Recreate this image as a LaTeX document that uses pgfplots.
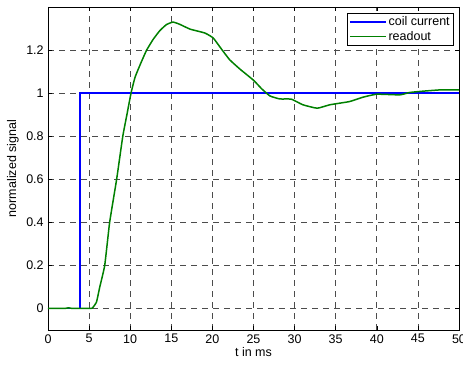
\documentclass[border=0pt]{standalone}
\usepackage{pgfplots}
\pgfplotsset{compat=1.18}
\usepackage{fontspec}
\setmainfont{Liberation Sans}
\definecolor{mgreen}{RGB}{0,128,0}
\begin{document}
\fontsize{12.5bp}{15bp}\selectfont
\begin{tikzpicture}
\path[use as bounding box] (-48bp,-35bp) rectangle (415bp,330bp);
\begin{axis}[
  at={(0,0)}, anchor=south west,
  scale only axis, width=411bp, height=323bp,
  xmin=0, xmax=50, ymin=-0.1, ymax=1.4,
  xtick={0,5,...,50},
  ytick={0,0.2,0.4,0.6,0.8,1,1.2},
  /pgf/number format/assume math mode=true,
  tick label style={font=\fontsize{12.5bp}{15bp}\selectfont},
  label style={font=\fontsize{12.5bp}{15bp}\selectfont},
  xlabel={t in ms}, ylabel={normalized signal},
  xlabel style={yshift=4bp},
  ylabel style={yshift=-1bp},
  tick align=inside, major tick length=4bp,
  tick style={black, line width=0.5bp},
  axis line style={black, line width=0.6bp},
  grid=major,
  major grid style={black!70, dash pattern=on 6bp off 5bp, line width=0.7bp},
  legend style={at={(1,1)}, anchor=north east, xshift=-5bp, yshift=-6bp,
    font=\fontsize{12.5bp}{15bp}\selectfont, draw=black, line width=0.6bp,
    inner xsep=2bp, inner ysep=1bp, row sep=0bp},
  legend cell align=left,
  legend image code/.code={\draw[#1, line width=1.5bp] (0bp,0bp) -- (36bp,0bp);},
]
\addplot[blue, line width=1.5bp] coordinates {(0,0) (3.9,0) (3.9,1) (50,1)};
\addlegendentry{coil current}
\addplot[mgreen, line width=1.5bp, smooth, tension=0.25] coordinates {
(0,0) (2,0) (2.5,0.003) (3,0) (5,0) (5.4,0.002) (5.9,0.03) (6.3,0.1) (6.9,0.2) (7.5,0.4) (8.35,0.6) (9.1,0.8) (9.6,0.9) (10.1,1.0) (10.6,1.075) (11.3,1.14) (12.0,1.2) (12.8,1.25) (13.6,1.29) (14.4,1.318) (15.2,1.33) (16,1.32) (17.3,1.297) (19.1,1.279) (20.1,1.256) (21,1.21) (22.1,1.155) (23.4,1.11) (25,1.06) (26,1.02) (27,0.987) (28.2,0.973) (29.6,0.972) (31,0.946) (32.75,0.930) (34.3,0.946) (36.7,0.961) (38.3,0.981) (40,0.995) (42.8,0.992) (44,1.003) (45.6,1.009) (47.7,1.015) (50,1.015)};
\addlegendentry{readout}
\end{axis}
\end{tikzpicture}
\end{document}
